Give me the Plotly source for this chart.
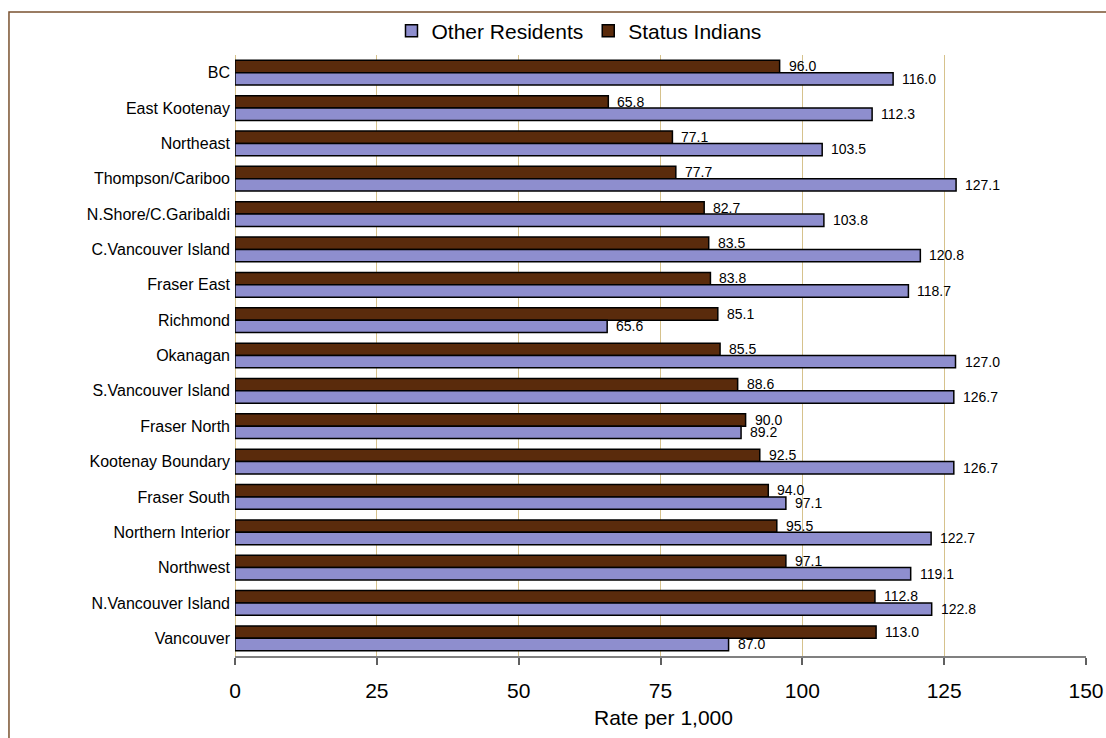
import plotly.graph_objects as go

categories = ["BC", "East Kootenay", "Northeast", "Thompson/Cariboo", "N.Shore/C.Garibaldi",
              "C.Vancouver Island", "Fraser East", "Richmond", "Okanagan", "S.Vancouver Island",
              "Fraser North", "Kootenay Boundary", "Fraser South", "Northern Interior",
              "Northwest", "N.Vancouver Island", "Vancouver"]
status_indians = [96.0, 65.8, 77.1, 77.7, 82.7, 83.5, 83.8, 85.1, 85.5, 88.6,
                  90.0, 92.5, 94.0, 95.5, 97.1, 112.8, 113.0]
other_residents = [116.0, 112.3, 103.5, 127.1, 103.8, 120.8, 118.7, 65.6, 127.0, 126.7,
                   89.2, 126.7, 97.1, 122.7, 119.1, 122.8, 87.0]
x_ticks = [0, 25, 50, 75, 100, 125, 150]

FONT = "Liberation Sans, Arial, sans-serif"

fig = go.Figure()
fig.add_trace(go.Bar(
    name="Status Indians", y=categories, x=status_indians, orientation="h",
    marker=dict(color="#5A2B0C", line=dict(color="#000000", width=1.5)),
))
fig.add_trace(go.Bar(
    name="Other Residents", y=categories, x=other_residents, orientation="h",
    marker=dict(color="#8E8ECE", line=dict(color="#000000", width=1.5)),
))

annotations = []
for cat, v in zip(categories, status_indians):
    annotations.append(dict(x=v, y=cat, xref="x", yref="y", text=f"{v:.1f}",
                            xanchor="left", yanchor="middle", xshift=7, yshift=6.5,
                            showarrow=False, font=dict(size=14, color="#000000")))
for cat, v in zip(categories, other_residents):
    annotations.append(dict(x=v, y=cat, xref="x", yref="y", text=f"{v:.1f}",
                            xanchor="left", yanchor="middle", xshift=7, yshift=-6.0,
                            showarrow=False, font=dict(size=14, color="#000000")))
annotations.append(dict(text="Rate per 1,000", xref="paper", yref="paper", x=0.503, y=-0.103,
                        xanchor="center", yanchor="middle", showarrow=False,
                        font=dict(size=21)))

fig.update_layout(
    width=1106, height=738,
    margin=dict(l=235, r=20, t=55, b=82),
    paper_bgcolor="white", plot_bgcolor="white",
    barmode="group", bargap=0.3, bargroupgap=0,
    font=dict(family=FONT, size=16, color="#000000"),
    showlegend=True,
    legend=dict(orientation="h", xref="container", yref="container", x=0.5235, y=0.958,
                xanchor="center", yanchor="middle",
                traceorder="reversed", font=dict(size=21), bgcolor="rgba(0,0,0,0)",
                itemwidth=30),
    xaxis=dict(range=[0, 150], tickvals=x_ticks, showgrid=True, gridcolor="#D6C28C",
               gridwidth=1, zeroline=True, zerolinecolor="#D6C28C", zerolinewidth=1,
               showline=True, linecolor="#808080", linewidth=1.5,
               ticks="outside", ticklen=7, tickcolor="#606060", tickwidth=1.5,
               tickfont=dict(size=21), ticklabelstandoff=8, fixedrange=True,
               automargin=False),
    yaxis=dict(autorange="reversed", showgrid=False, ticks="", showline=False,
               tickfont=dict(size=16), ticklabelstandoff=4, automargin=False),
    annotations=annotations,
    shapes=[dict(type="rect", xref="paper", yref="paper", x0=-0.2656, x1=1.05,
                 y0=-0.25, y1=1.0716, line=dict(color="#7A5230", width=1.5),
                 fillcolor="rgba(0,0,0,0)", layer="below")],
)

fig.write_html("out.html", config={"displayModeBar": False},
               post_script="document.body.style.margin='0';document.body.style.overflow='hidden';")
